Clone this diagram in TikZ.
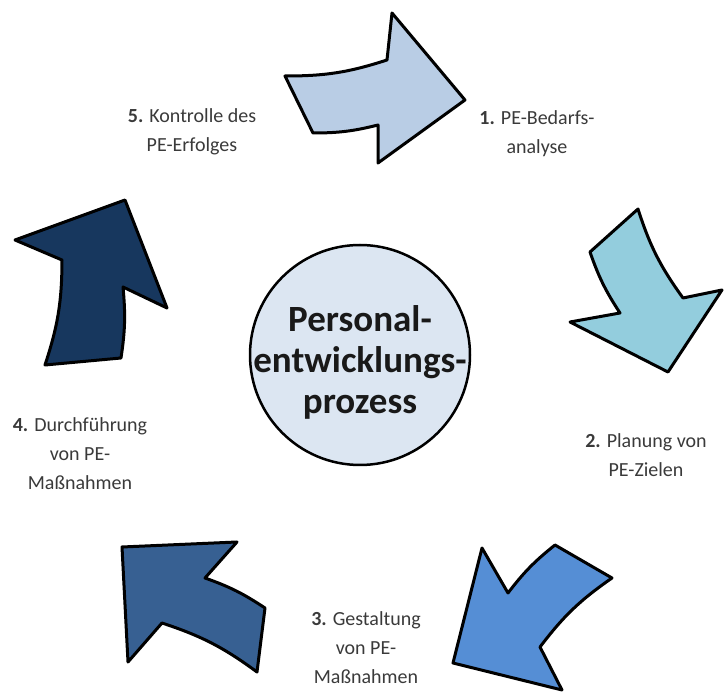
\documentclass[tikz,border=0pt]{standalone}
\usepackage{fontspec}
\setmainfont{Carlito}

\definecolor{stepone}{HTML}{B9CDE5}
\definecolor{steptwo}{HTML}{93CDDD}
\definecolor{stepthree}{HTML}{558ED5}
\definecolor{stepfour}{HTML}{376092}
\definecolor{stepfive}{HTML}{17375E}
\definecolor{corefill}{HTML}{DCE6F2}
\definecolor{labelgray}{HTML}{3A3A3A}

\tikzset{
    pearrow/.style={draw=black, line width=3pt, line join=round},
    pelabel/.style={align=center, text=labelgray, font=\fontsize{20}{29}\selectfont}
}

\begin{document}
\begin{tikzpicture}[x=1pt, y=-1pt]
    \useasboundingbox (0,0) rectangle (724,692);

    % 1: top arrow
    \coordinate (A1) at (285,76);
    \coordinate (B1) at (387,60);
    \coordinate (C1) at (392,13);
    \coordinate (D1) at (465,100);
    \coordinate (E1) at (378,163);
    \coordinate (F1) at (378,125);
    \coordinate (G1) at (313,133);
    \filldraw[pearrow, fill=stepone] (A1) to[bend right=9] (B1) -- (C1) -- (D1)
        -- (E1) -- (F1) to[bend left=7] (G1) -- cycle;

    % 2: right arrow
    \coordinate (A2) at (638,209);
    \coordinate (B2) at (683,298);
    \coordinate (C2) at (722,290);
    \coordinate (D2) at (668,372);
    \coordinate (E2) at (570,322);
    \coordinate (F2) at (620,313);
    \coordinate (G2) at (590,252);
    \filldraw[pearrow, fill=steptwo] (A2) to[bend right=9] (B2) -- (C2) -- (D2)
        -- (E2) -- (F2) to[bend left=7] (G2) -- cycle;

    % 3: lower right arrow
    \coordinate (A3) at (612,578);
    \coordinate (B3) at (540,647);
    \coordinate (C3) at (562,690);
    \coordinate (D3) at (453,663);
    \coordinate (E3) at (482,548);
    \coordinate (F3) at (508,593);
    \coordinate (G3) at (555,545);
    \filldraw[pearrow, fill=stepthree] (A3) to[bend right=9] (B3) -- (C3) -- (D3)
        -- (E3) -- (F3) to[bend left=7] (G3) -- cycle;

    % 4: lower left arrow
    \coordinate (A4) at (257,672);
    \coordinate (B4) at (162,623);
    \coordinate (C4) at (128,662);
    \coordinate (D4) at (122,547);
    \coordinate (E4) at (237,542);
    \coordinate (F4) at (205,578);
    \coordinate (G4) at (265,608);
    \filldraw[pearrow, fill=stepfour] (A4) to[bend right=9] (B4) -- (C4) -- (D4)
        -- (E4) -- (F4) to[bend left=7] (G4) -- cycle;

    % 5: left arrow
    \coordinate (A5) at (45,365);
    \coordinate (B5) at (62,260);
    \coordinate (C5) at (15,240);
    \coordinate (D5) at (125,200);
    \coordinate (E5) at (167,308);
    \coordinate (F5) at (123,287);
    \coordinate (G5) at (121,358);
    \filldraw[pearrow, fill=stepfive] (A5) to[bend right=9] (B5) -- (C5) -- (D5)
        -- (E5) -- (F5) to[bend left=7] (G5) -- cycle;

    % centre
    \node[circle, draw=black, line width=2.5pt, fill=corefill, minimum size=220pt]
        (core) at (360,355) {};
    \node[align=center, font=\fontsize{37}{41}\selectfont\bfseries, text=black!90]
        (title) at (360,362) {Personal-\\entwicklungs-\\prozess};

    % step labels
    \node[pelabel] (lab1) at (537,134) {\textbf{1.} PE-Bedarfs-\\analyse};
    \node[pelabel] (lab2) at (646,455) {\textbf{2.} Planung von\\PE-Zielen};
    \node[pelabel] (lab3) at (366,648) {\textbf{3.} Gestaltung\\von PE-\\Maßnahmen};
    \node[pelabel] (lab4) at (80,454) {\textbf{4.} Durchführung\\von PE-\\Maßnahmen};
    \node[pelabel] (lab5) at (192,132) {\textbf{5.} Kontrolle des\\PE-Erfolges};
\end{tikzpicture}
\end{document}
